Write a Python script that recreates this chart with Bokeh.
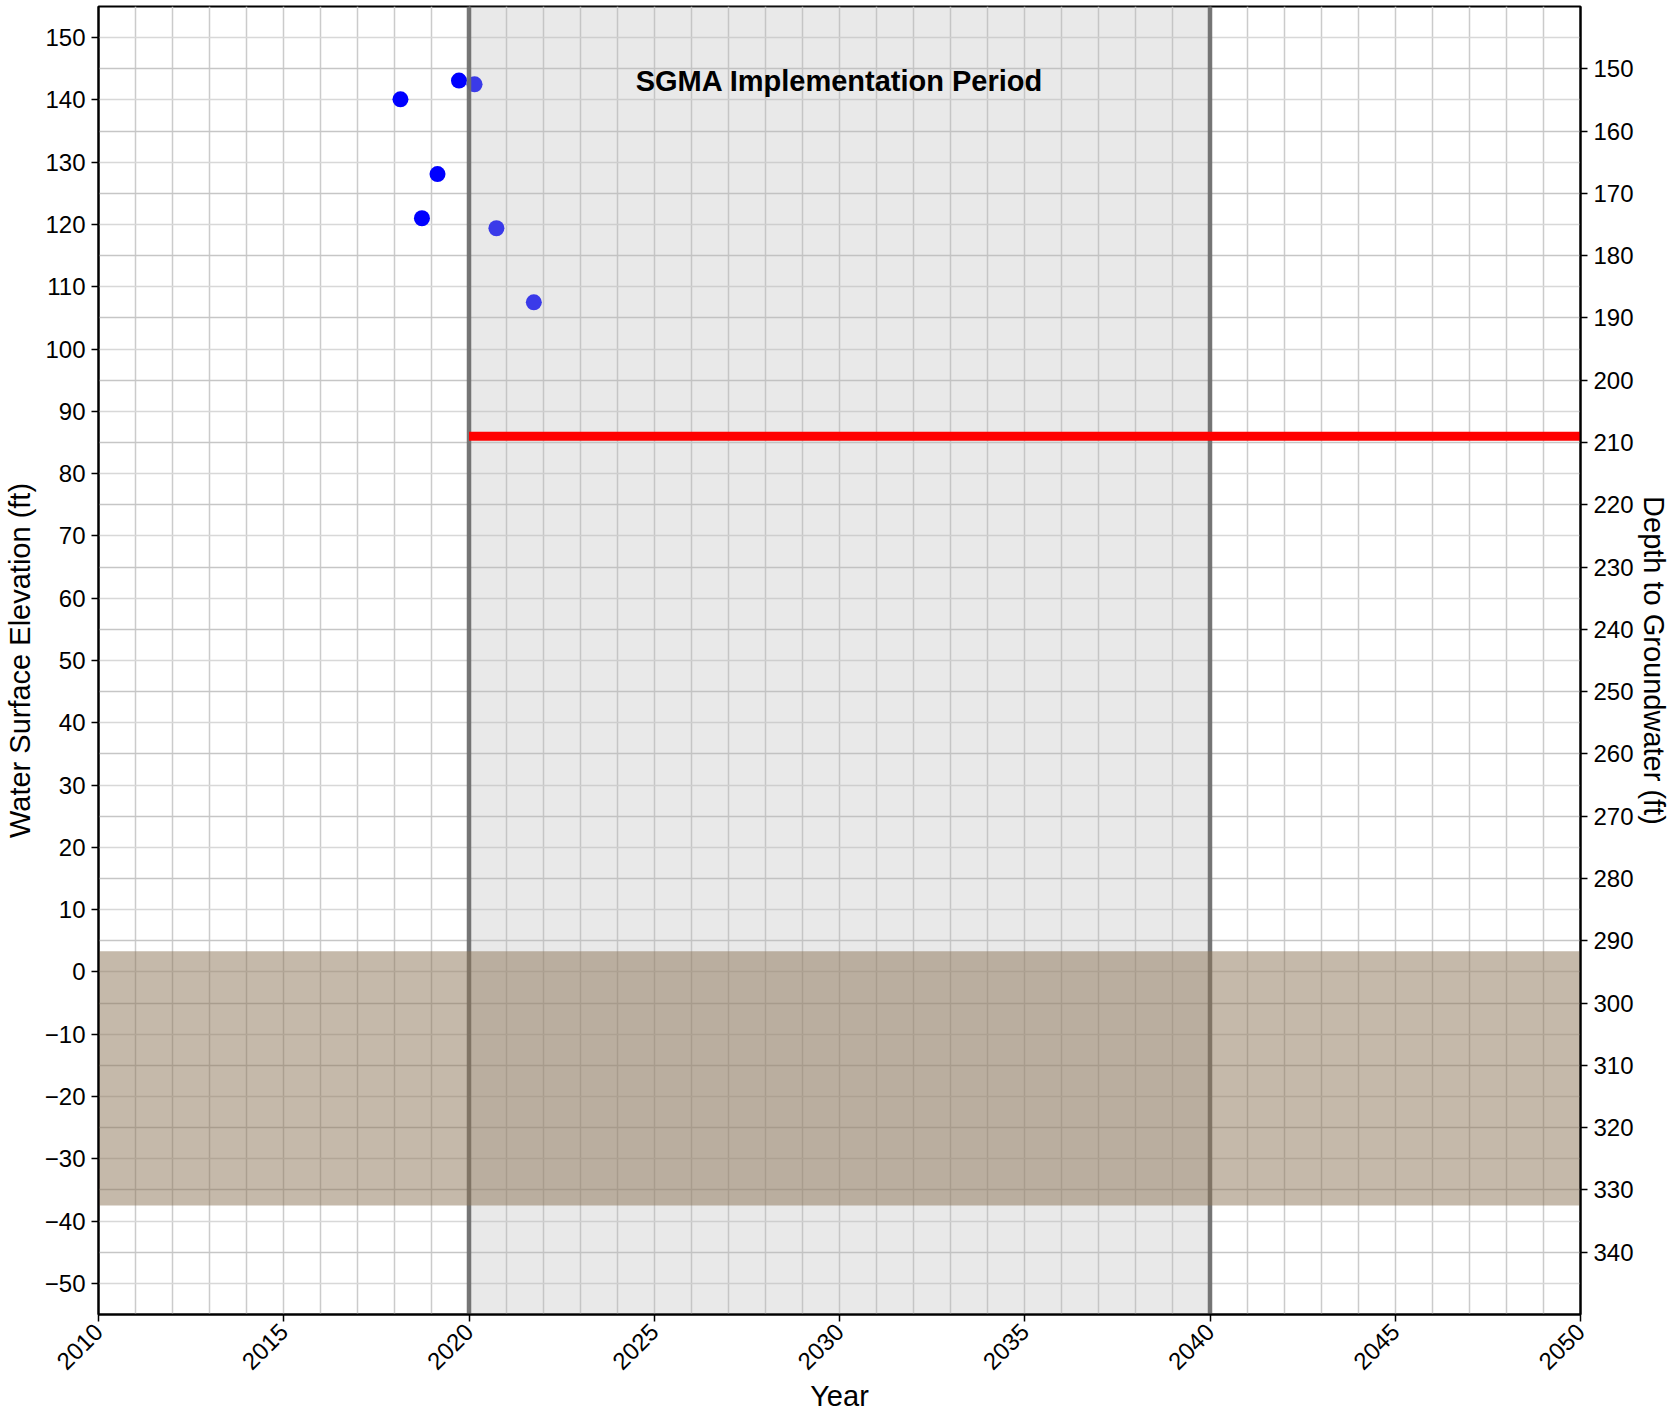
import math
from bokeh.plotting import figure
from bokeh.models import Range1d, LinearAxis, FixedTicker, SingleIntervalTicker, Grid
from bokeh.core.properties import value
from bokeh.embed import file_html
from bokeh.resources import INLINE

# ---------------- data ----------------
obs_years = [2018.15, 2018.73, 2019.15, 2019.73, 2020.15, 2020.74, 2021.75]
obs_elev = [140.1, 121.0, 128.1, 143.1, 142.5, 119.4, 107.5]

year_min, year_max = 2010, 2050
elev_min, elev_max = -55, 155
ground_surface = 295  # depth = ground_surface - elevation

sgma_start, sgma_end = 2020, 2040
threshold_elev = 86.0           # red line (2020 onward)
band_top, band_bottom = 3.3, -37.5

x_ticks = [2010, 2015, 2020, 2025, 2030, 2035, 2040, 2045, 2050]
y_ticks = [-50, -40, -30, -20, -10, 0, 10, 20, 30, 40, 50, 60, 70,
           80, 90, 100, 110, 120, 130, 140, 150]
depth_ticks = [150, 160, 170, 180, 190, 200, 210, 220, 230, 240, 250,
               260, 270, 280, 290, 300, 310, 320, 330, 340]
y_tick_labels = {t: (("\u2212" + str(abs(t))) if t < 0 else str(t)) for t in y_ticks}

FONT = "Liberation Sans"

# ---------------- figure ----------------
p = figure(frame_width=1482, frame_height=1308,
           x_range=Range1d(year_min, year_max),
           y_range=Range1d(elev_min, elev_max),
           output_backend="svg", toolbar_location=None,
           min_border_left=98, min_border_right=10,
           min_border_top=6, min_border_bottom=4,
           background_fill_color="white", border_fill_color="white")
p.extra_y_ranges = {"depth": Range1d(start=ground_surface - elev_min,
                                      end=ground_surface - elev_max)}

p.outline_line_color = "black"
p.outline_line_width = 2

# grids
p.xgrid.ticker = SingleIntervalTicker(interval=1)
p.xgrid.grid_line_color = "#cbcbcb"
p.xgrid.grid_line_width = 1.5
p.ygrid.ticker = FixedTicker(ticks=y_ticks)
p.ygrid.grid_line_color = "#d8d8d8"
p.ygrid.grid_line_width = 1.5
g2 = Grid(dimension=1, ticker=FixedTicker(ticks=depth_ticks), y_range_name="depth",
          grid_line_color="#c6c6c6", grid_line_width=1.5)
p.add_layout(g2)

# axes
right_axis = LinearAxis(y_range_name="depth", axis_label="Depth to Groundwater (ft)",
                        ticker=FixedTicker(ticks=depth_ticks))
p.add_layout(right_axis, "right")

p.xaxis.ticker = FixedTicker(ticks=x_ticks)
p.xaxis.axis_label = "Year"
p.xaxis.major_label_orientation = math.pi / 4
p.yaxis[0].ticker = FixedTicker(ticks=y_ticks)
p.yaxis[0].axis_label = "Water Surface Elevation (ft)"
p.yaxis[0].major_label_overrides = y_tick_labels

for ax in [p.xaxis[0], p.yaxis[0], right_axis]:
    ax.axis_line_color = "black"
    ax.axis_line_width = 2
    ax.major_tick_line_color = "black"
    ax.major_tick_line_width = 1.5
    ax.major_tick_out = 7
    ax.major_tick_in = 0
    ax.minor_tick_line_color = None
    ax.major_label_standoff = 6
    ax.major_label_text_font = FONT
    ax.major_label_text_font_size = "24px"
    ax.major_label_text_color = "black"
    ax.axis_label_text_font = FONT
    ax.axis_label_text_font_size = "29px"
    ax.axis_label_text_font_style = "normal"
    ax.axis_label_text_color = "black"
    ax.axis_label_standoff = 6
p.xaxis[0].axis_label_standoff = 0
right_axis.axis_label_standoff = 1

# ---------------- glyphs ----------------
p.scatter(obs_years, obs_elev, size=16, fill_color="#0000ff", line_color=None)

# SGMA implementation period shading (drawn over points, as in reference)
p.quad(left=[sgma_start], right=[sgma_end], bottom=[elev_min], top=[elev_max],
       fill_color="#b9b9b9", fill_alpha=0.314, line_color=None)

# period boundaries
p.segment(x0=[sgma_start, sgma_end], y0=[elev_min, elev_min],
          x1=[sgma_start, sgma_end], y1=[elev_max, elev_max],
          line_color="#6f6f6f", line_width=4.5, line_alpha=0.95)

# brown band
p.quad(left=[year_min], right=[year_max], bottom=[band_bottom], top=[band_top],
       fill_color="#8b7355", fill_alpha=0.5, line_color=None)

# threshold line
p.segment(x0=[sgma_start], y0=[threshold_elev], x1=[year_max], y1=[threshold_elev],
          line_color="red", line_width=9)

p.text(x=[(sgma_start + sgma_end) / 2], y=[143], text=["SGMA Implementation Period"],
       text_font=value(FONT), text_font_style="bold", text_font_size="29px",
       text_align="center", text_baseline="middle", text_color="black")

open("out.html", "w").write(file_html(p, INLINE))
